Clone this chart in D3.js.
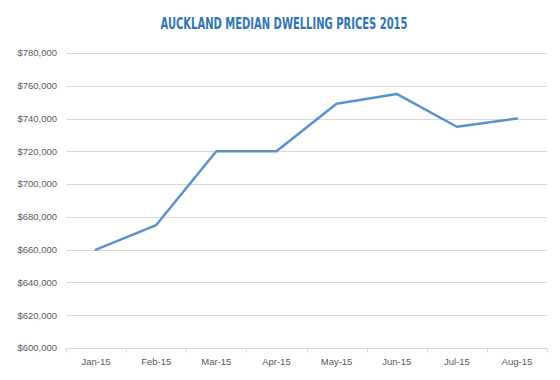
<!DOCTYPE html>
<style>
body { margin: 0; background: #fff; }
</style>
<svg width="560" height="380"></svg>
<script src="https://d3js.org/d3.v7.min.js"></script>
<script>

var months = ["Jan-15", "Feb-15", "Mar-15", "Apr-15", "May-15", "Jun-15", "Jul-15", "Aug-15"];
var prices = [660000, 675000, 720000, 720000, 749000, 755000, 735000, 740000];
var yTicks = [600000, 620000, 640000, 660000, 680000, 700000, 720000, 740000, 760000, 780000];

var svg = d3.select("svg"),
    margin = {top: 53, right: 13, bottom: 32, left: 66},
    width = +svg.attr("width") - margin.left - margin.right,
    height = +svg.attr("height") - margin.top - margin.bottom,
    g = svg.append("g").attr("transform", "translate(" + margin.left + "," + margin.top + ")");

var x = d3.scaleBand().domain(months).range([0, width]);
var y = d3.scaleLinear().domain([600000, 780000]).range([height, 0]);

svg.append("text")
    .attr("x", 284)
    .attr("y", 29)
    .attr("text-anchor", "middle")
    .attr("font-family", "DejaVu Sans Condensed, DejaVu Sans")
    .attr("font-weight", "bold")
    .attr("font-size", 16)
    .attr("fill", "#2e75b6")
    .attr("textLength", 247)
    .attr("lengthAdjust", "spacingAndGlyphs")
    .text("AUCKLAND MEDIAN DWELLING PRICES 2015");

// gridlines
g.append("g")
  .selectAll("line")
  .data(yTicks.slice(1))
  .enter().append("line")
    .attr("x1", 0)
    .attr("x2", width)
    .attr("y1", function(d) { return Math.round(y(d)) + 0.5; })
    .attr("y2", function(d) { return Math.round(y(d)) + 0.5; })
    .attr("stroke", "#d9d9d9");

// y labels
g.append("g")
  .selectAll("text")
  .data(yTicks)
  .enter().append("text")
    .attr("x", -9)
    .attr("y", function(d) { return y(d); })
    .attr("dy", "0.35em")
    .attr("text-anchor", "end")
    .attr("font-family", "Liberation Sans, Arial")
    .attr("font-size", 9.5)
    .attr("fill", "#595959")
    .text(function(d) { return "$" + d3.format(",")(d); });

// x axis
var xAxis = g.append("g")
    .attr("transform", "translate(0," + (Math.round(height) + 0.5) + ")");

xAxis.append("line")
    .attr("x1", 0).attr("x2", width)
    .attr("stroke", "#d9d9d9");

xAxis.selectAll("line.tick")
  .data(months.concat(["end"]))
  .enter().append("line")
    .attr("class", "tick")
    .attr("x1", function(d, i) { return Math.round(i * x.step()) + 0.5; })
    .attr("x2", function(d, i) { return Math.round(i * x.step()) + 0.5; })
    .attr("y1", 0)
    .attr("y2", 4)
    .attr("stroke", "#d9d9d9");

xAxis.selectAll("text")
  .data(months)
  .enter().append("text")
    .attr("x", function(d) { return x(d) + x.bandwidth() / 2; })
    .attr("y", 13)
    .attr("dy", "0.35em")
    .attr("text-anchor", "middle")
    .attr("font-family", "Liberation Sans, Arial")
    .attr("font-size", 9.5)
    .attr("fill", "#595959")
    .text(function(d) { return d; });

var line = d3.line()
    .x(function(d, i) { return x(months[i]) + x.bandwidth() / 2; })
    .y(function(d) { return y(d); });

g.append("path")
    .datum(prices)
    .attr("fill", "none")
    .attr("stroke", "#5593d0")
    .attr("stroke-width", 2.5)
    .attr("stroke-linejoin", "round")
    .attr("stroke-linecap", "round")
    .attr("d", line);

</script>
